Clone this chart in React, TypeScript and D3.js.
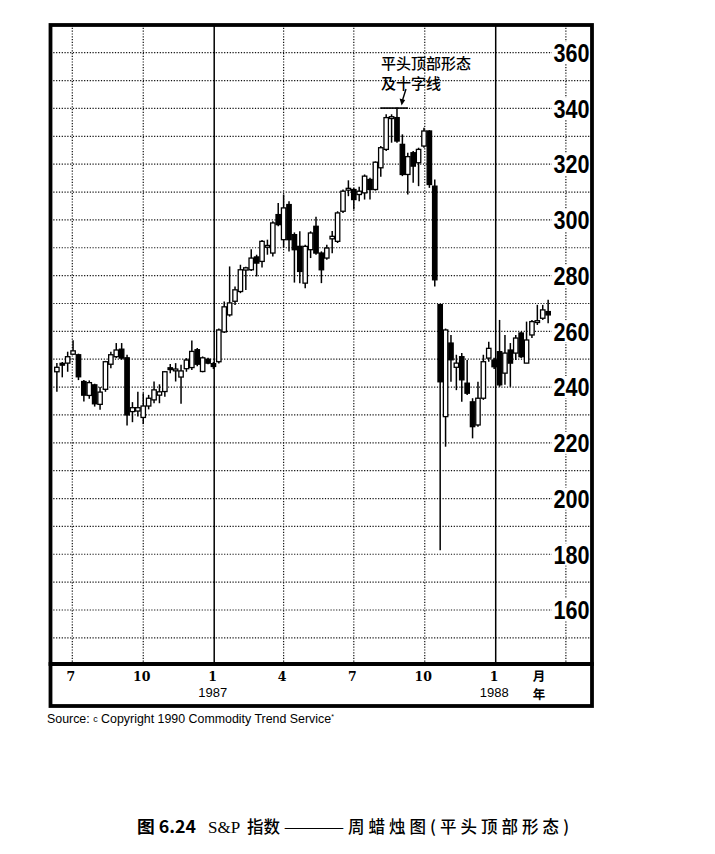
import React from 'react';
import * as d3 from 'd3';

// ---- DATA (weekly S&P candles) ----
const firstWeek = '1986-06-11';
const opens = [245.5,248.4,248.6,251.8,251.6,242.0,237.0,240.8,233.8,239.2,248.2,250.9,253.6,250.5,231.2,231.4,229.1,233.2,235.4,237.1,238.4,246.8,246.0,243.6,246.6,247.0,253.4,245.6,250.0,248.4,249.1,
  259.8,265.9,270.8,274.3,282.0,282.1,286.7,285.1,290.3,288.1,301.9,292.9,305.5,294.7,290.5,277.3,289.3,297.7,288.1,286.3,293.2,292.3,303.1,310.8,310.9,
  309.1,309.7,314.5,310.9,318.7,325.3,336.5,336.7,327.1,316.3,324.1,320.5,326.5,331.9,312.1,269.6,
  229.4,255.8,247.1,250.9,241.4,234.7,226.4,236.0,250.4,249.7,252.7,245.0,253.3,252.2,259.4,248.6,258.7,263.3,264.7,267.1];
const highs = [248.6,249.0,252.7,256.8,252.0,242.5,242.4,241.2,240.0,249.4,252.7,255.8,255.8,251.6,234.6,238.3,237.8,237.2,242.0,241.0,245.8,248.3,248.6,248.0,250.4,256.7,254.0,251.0,250.5,249.0,261.0,
  270.7,283.3,276.1,283.9,283.2,289.5,287.5,292.8,292.9,299.5,306.1,309.1,306.7,295.5,295.9,291.1,295.9,301.1,288.7,291.1,296.0,303.1,310.9,314.2,311.5,
  311.9,316.3,315.1,321.0,326.5,337.9,337.9,340.3,330.7,324.1,324.7,325.9,333.1,332.2,314.5,269.8,
  261.0,258.7,251.6,252.2,249.7,236.0,241.9,251.6,256.3,250.5,264.1,258.7,255.8,258.7,259.9,263.5,264.1,269.5,269.5,271.3];
const lows = [238.3,243.5,245.5,251.5,242.5,234.8,235.8,233.0,231.9,238.3,246.8,250.4,249.8,226.2,227.4,229.4,226.7,232.0,234.2,234.2,236.5,245.0,242.0,234.0,245.5,246.1,247.5,245.3,248.2,246.5,248.5,
  259.4,265.3,269.5,273.7,274.8,281.7,279.7,282.9,287.5,286.9,297.7,290.0,288.7,277.5,277.3,275.5,286.3,287.5,277.3,285.7,288.0,291.7,302.5,308.5,303.7,
  306.7,307.3,307.3,310.5,315.5,324.7,327.7,327.7,315.7,309.1,313.3,312.1,325.9,311.5,276.1,181.4,
  218.6,241.9,238.9,234.7,237.2,221.6,225.8,235.4,249.1,246.5,240.1,240.8,240.1,249.7,250.4,248.6,257.6,262.3,264.1,262.9];
const closes = [247.1,248.0,250.9,253.0,243.7,237.1,241.6,234.0,238.2,249.1,251.6,253.3,250.4,230.0,232.6,232.6,233.2,236.0,239.0,238.3,245.5,246.4,246.3,245.8,249.7,252.8,248.2,250.5,248.6,247.4,260.5,
  268.8,270.2,274.9,282.1,282.8,286.3,284.5,292.3,290.7,298.9,298.3,304.3,292.9,289.3,281.5,290.5,295.3,288.1,282.1,289.9,294.1,302.5,310.3,311.2,307.3,
  310.3,315.7,310.9,320.7,325.9,336.7,336.9,328.3,316.3,322.7,319.3,325.3,331.9,312.7,278.5,241.9,
  260.5,249.8,248.6,242.6,237.8,225.8,236.0,249.1,253.9,247.3,240.8,252.2,248.6,257.6,250.9,256.9,263.5,263.7,267.7,265.9];

const yLabels = [160, 180, 200, 220, 240, 260, 280, 300, 320, 340, 360];
const gridDates = ['1986-07-01', '1986-10-01', '1987-01-01', '1987-04-01', '1987-07-01', '1987-10-01', '1988-01-01', '1988-04-01'];
const monthLabels = ['7', '10', '1', '4', '7', '10', '1'];
const yearLabels: Record<number, string> = { 2: '1987', 6: '1988' };
const flatTopWeeks = [61, 62, 63];

const parse = d3.timeParse('%Y-%m-%d');

export default function App() {
  const W = 715, H = 854;
  const L = 50.5, R = 592, T = 25, PB = 664, AB = 706;

  const x = d3.scaleTime()
    .domain([parse('1986-07-01')!, parse('1988-01-01')!])
    .range([72.3, 495.7]);
  const y = d3.scaleLinear().domain([160, 360]).range([610, 52.7]);

  const start = parse(firstWeek)!;
  const candles = opens.map((o, i) => ({
    date: d3.timeDay.offset(start, 7 * i),
    o, h: highs[i], l: lows[i], c: closes[i],
  }));

  const hGrid = d3.range(150, 361, 10);
  const dotted = { stroke: '#111', strokeWidth: 1.2, strokeDasharray: '1.2 1.6' } as const;
  const bw = 4.4;

  const flatTop = d3.max(flatTopWeeks, (i) => highs[i])!;
  const ftX0 = x(candles[flatTopWeeks[0]].date) - 6;
  const ftX1 = x(candles[flatTopWeeks[flatTopWeeks.length - 1]].date) + 11;
  const ftY = y(flatTop) + 0.5;

  const sans = "'Liberation Sans', Arial, Helvetica, sans-serif";
  const cjk = "'Noto Sans CJK SC', sans-serif";

  return (
    <svg width={W} height={H} viewBox={`0 0 ${W} ${H}`}
      style={{ position: 'absolute', left: 0, top: 0, background: '#fff' }}>
      <rect x={0} y={0} width={W} height={H} fill="#fff" />
      {/* horizontal grid */}
      {hGrid.map((v) => (
        <line key={'h' + v} x1={L} x2={R} y1={y(v)} y2={y(v)} {...dotted} />
      ))}
      {/* vertical grid */}
      {gridDates.map((d, i) => {
        const gx = x(parse(d)!);
        const solid = d.endsWith('-01-01');
        return solid ? (
          <line key={'v' + i} x1={gx} x2={gx} y1={T} y2={PB} stroke="#000" strokeWidth={1.5} />
        ) : (
          <line key={'v' + i} x1={gx} x2={gx} y1={T} y2={PB} {...dotted} />
        );
      })}
      {/* y labels */}
      {yLabels.map((v) => (
        <g key={'yl' + v}>
          <rect x={552} y={y(v) - 11} width={38} height={22} fill="#fff" />
          <text x={589.5} y={y(v) + 9.3} textAnchor="end" fontFamily={sans}
            fontWeight={700} fontSize={26} textLength={36} lengthAdjust="spacingAndGlyphs" fill="#000">
            {v}
          </text>
        </g>
      ))}
      {/* candles */}
      {candles.map((d, i) => {
        const cx = x(d.date);
        const top = y(Math.max(d.o, d.c));
        const bot = y(Math.min(d.o, d.c));
        const up = d.c >= d.o;
        const hgt = Math.max(bot - top, 1.8);
        return (
          <g key={'c' + i}>
            <line x1={cx} x2={cx} y1={y(d.h)} y2={y(d.l)} stroke="#000" strokeWidth={1.5} />
            <rect x={cx - bw / 2} y={top - (hgt - (bot - top)) / 2} width={bw} height={hgt}
              fill={up ? '#fff' : '#000'} stroke="#000" strokeWidth={1.3} />
          </g>
        );
      })}
      {/* annotation */}
      <line x1={ftX0} x2={ftX1} y1={ftY} y2={ftY} stroke="#000" strokeWidth={1.6} />
      <line x1={406} y1={89} x2={402.6} y2={100} stroke="#000" strokeWidth={1.4} />
      <path d="M 401.6 105.5 L 399.6 98.5 L 405.2 100 Z" fill="#000" />
      <text x={381} y={69} fontFamily={cjk} fontSize={15} fontWeight={500} fill="#000">
        平头顶部形态
      </text>
      <text x={381} y={88.5} fontFamily={cjk} fontSize={15} fontWeight={500} fill="#000">
        及十字线
      </text>
      {/* frame */}
      <rect x={L} y={T} width={R - L} height={PB - T} fill="none" stroke="#000" strokeWidth={3.8} />
      <rect x={L} y={PB} width={R - L} height={AB - PB} fill="none" stroke="#000" strokeWidth={3.8} />
      {/* x labels */}
      {monthLabels.map((m, i) => {
        const gx = x(parse(gridDates[i])!) - 1.5;
        return (
          <g key={'m' + i}>
            <text x={gx} y={681} textAnchor="middle" fontFamily="'DejaVu Serif', serif" fontWeight={700}
              fontSize={12.5} fill="#000">{m}</text>
            {yearLabels[i] && (
              <text x={gx} y={697} textAnchor="middle" fontFamily={sans}
                fontSize={13} fill="#000">{yearLabels[i]}</text>
            )}
          </g>
        );
      })}
      <text x={539} y={681} textAnchor="middle" fontFamily={cjk} fontWeight={700}
        fontSize={12.5} fill="#000">月</text>
      <text x={539} y={698.5} textAnchor="middle" fontFamily={cjk} fontWeight={700}
        fontSize={12.5} fill="#000">年</text>
      {/* source */}
      <text x={47} y={723} fontFamily={sans} fontSize={12.4} fill="#000">
        Source:{'  '}
        <tspan fontSize={9} dy={-1}>c</tspan>
        <tspan dy={1}> Copyright 1990 Commodity Trend Service</tspan>
        <tspan fontSize={7} dy={-4}>*</tspan>
      </text>
      {/* caption */}
      <text x={137} y={833} fontFamily={cjk} fontWeight={700} fontSize={17}
        textLength={59} lengthAdjust="spacingAndGlyphs" fill="#000">图 6.24</text>
      <text x={208} y={833} fontFamily="'Liberation Serif', serif" fontSize={17} fill="#000">S&amp;P</text>
      <text x={247} y={833} fontFamily={cjk} fontSize={16.5} fontWeight={500} fill="#000">指数</text>
      <text x={283} y={833} fontFamily={cjk} fontSize={16.5} fill="#000"
        textLength={62} lengthAdjust="spacingAndGlyphs">——</text>
      <text x={348} y={833} fontFamily={cjk} fontSize={16.5} fontWeight={500} fill="#000"
        textLength={221} lengthAdjust="spacing">周蜡烛图(平头顶部形态)</text>
    </svg>
  );
}
